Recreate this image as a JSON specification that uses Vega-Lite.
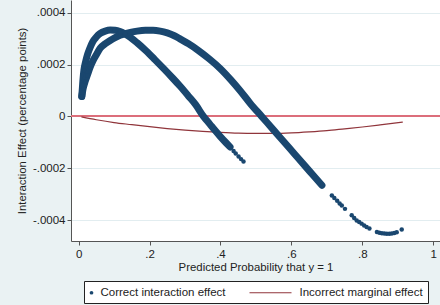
{
  "$schema": "https://vega.github.io/schema/vega-lite/v6.json",
  "width": 369,
  "height": 241,
  "autosize": {"type": "none"},
  "padding": {"left": 71, "top": 0, "right": 0, "bottom": 64},
  "background": "#eaf2f3",
  "config": {
    "font": "Liberation Sans",
    "view": {"fill": "white", "stroke": null},
    "axis": {
      "labelFont": "Liberation Sans",
      "labelFontSize": 11.5,
      "labelColor": "#222222",
      "titleFont": "Liberation Sans",
      "titleFontSize": 11.4,
      "titleFontWeight": "normal",
      "titleColor": "#222222",
      "domainColor": "#555555",
      "domainWidth": 1,
      "tickColor": "#555555",
      "tickSize": 4,
      "tickWidth": 1
    }
  },
  "data": {
    "values": [
      {"p": 0.009, "v": 0.000077, "s": "Correct interaction effect", "c": "A", "d": 1},
      {"p": 0.012, "v": 0.000135, "s": "Correct interaction effect", "c": "A", "d": 1},
      {"p": 0.015, "v": 0.000178, "s": "Correct interaction effect", "c": "A", "d": 1},
      {"p": 0.020, "v": 0.000212, "s": "Correct interaction effect", "c": "A", "d": 1},
      {"p": 0.025, "v": 0.000238, "s": "Correct interaction effect", "c": "A", "d": 1},
      {"p": 0.032, "v": 0.000264, "s": "Correct interaction effect", "c": "A", "d": 1},
      {"p": 0.040, "v": 0.000288, "s": "Correct interaction effect", "c": "A", "d": 1},
      {"p": 0.050, "v": 0.000306, "s": "Correct interaction effect", "c": "A", "d": 1},
      {"p": 0.061, "v": 0.000320, "s": "Correct interaction effect", "c": "A", "d": 1},
      {"p": 0.075, "v": 0.000329, "s": "Correct interaction effect", "c": "A", "d": 1},
      {"p": 0.089, "v": 0.000333, "s": "Correct interaction effect", "c": "A", "d": 1},
      {"p": 0.103, "v": 0.000332, "s": "Correct interaction effect", "c": "A", "d": 1},
      {"p": 0.117, "v": 0.000327, "s": "Correct interaction effect", "c": "A", "d": 1},
      {"p": 0.131, "v": 0.000318, "s": "Correct interaction effect", "c": "A", "d": 1},
      {"p": 0.146, "v": 0.000305, "s": "Correct interaction effect", "c": "A", "d": 1},
      {"p": 0.165, "v": 0.000284, "s": "Correct interaction effect", "c": "A", "d": 1},
      {"p": 0.190, "v": 0.000253, "s": "Correct interaction effect", "c": "A", "d": 1},
      {"p": 0.215, "v": 0.000219, "s": "Correct interaction effect", "c": "A", "d": 1},
      {"p": 0.240, "v": 0.000184, "s": "Correct interaction effect", "c": "A", "d": 1},
      {"p": 0.265, "v": 0.000148, "s": "Correct interaction effect", "c": "A", "d": 1},
      {"p": 0.287, "v": 0.000115, "s": "Correct interaction effect", "c": "A", "d": 1},
      {"p": 0.310, "v": 0.000078, "s": "Correct interaction effect", "c": "A", "d": 1},
      {"p": 0.330, "v": 0.000045, "s": "Correct interaction effect", "c": "A", "d": 1},
      {"p": 0.352, "v": 0.000000, "s": "Correct interaction effect", "c": "A", "d": 1},
      {"p": 0.370, "v": -0.000030, "s": "Correct interaction effect", "c": "A", "d": 1},
      {"p": 0.385, "v": -0.000055, "s": "Correct interaction effect", "c": "A", "d": 1},
      {"p": 0.399, "v": -0.000077, "s": "Correct interaction effect", "c": "A", "d": 1},
      {"p": 0.413, "v": -0.000098, "s": "Correct interaction effect", "c": "A", "d": 1},
      {"p": 0.427, "v": -0.000118, "s": "Correct interaction effect", "c": "A", "d": 1},
      {"p": 0.437, "v": -0.000134, "s": "Correct interaction effect", "c": "A", "d": 0},
      {"p": 0.443, "v": -0.000143, "s": "Correct interaction effect", "c": "A", "d": 0},
      {"p": 0.451, "v": -0.000155, "s": "Correct interaction effect", "c": "A", "d": 0},
      {"p": 0.458, "v": -0.000165, "s": "Correct interaction effect", "c": "A", "d": 0},
      {"p": 0.465, "v": -0.000174, "s": "Correct interaction effect", "c": "A", "d": 0},
      {"p": 0.009, "v": 0.000077, "s": "Correct interaction effect", "c": "B", "d": 1},
      {"p": 0.013, "v": 0.000108, "s": "Correct interaction effect", "c": "B", "d": 1},
      {"p": 0.018, "v": 0.000133, "s": "Correct interaction effect", "c": "B", "d": 1},
      {"p": 0.0245, "v": 0.000158, "s": "Correct interaction effect", "c": "B", "d": 1},
      {"p": 0.032, "v": 0.000188, "s": "Correct interaction effect", "c": "B", "d": 1},
      {"p": 0.041, "v": 0.000216, "s": "Correct interaction effect", "c": "B", "d": 1},
      {"p": 0.050, "v": 0.000238, "s": "Correct interaction effect", "c": "B", "d": 1},
      {"p": 0.061, "v": 0.000263, "s": "Correct interaction effect", "c": "B", "d": 1},
      {"p": 0.075, "v": 0.000280, "s": "Correct interaction effect", "c": "B", "d": 1},
      {"p": 0.089, "v": 0.000293, "s": "Correct interaction effect", "c": "B", "d": 1},
      {"p": 0.103, "v": 0.000304, "s": "Correct interaction effect", "c": "B", "d": 1},
      {"p": 0.117, "v": 0.000313, "s": "Correct interaction effect", "c": "B", "d": 1},
      {"p": 0.131, "v": 0.000319, "s": "Correct interaction effect", "c": "B", "d": 1},
      {"p": 0.146, "v": 0.000324, "s": "Correct interaction effect", "c": "B", "d": 1},
      {"p": 0.165, "v": 0.000329, "s": "Correct interaction effect", "c": "B", "d": 1},
      {"p": 0.188, "v": 0.000332, "s": "Correct interaction effect", "c": "B", "d": 1},
      {"p": 0.210, "v": 0.000332, "s": "Correct interaction effect", "c": "B", "d": 1},
      {"p": 0.230, "v": 0.000329, "s": "Correct interaction effect", "c": "B", "d": 1},
      {"p": 0.250, "v": 0.000322, "s": "Correct interaction effect", "c": "B", "d": 1},
      {"p": 0.270, "v": 0.000311, "s": "Correct interaction effect", "c": "B", "d": 1},
      {"p": 0.287, "v": 0.000298, "s": "Correct interaction effect", "c": "B", "d": 1},
      {"p": 0.310, "v": 0.000280, "s": "Correct interaction effect", "c": "B", "d": 1},
      {"p": 0.340, "v": 0.000252, "s": "Correct interaction effect", "c": "B", "d": 1},
      {"p": 0.370, "v": 0.000220, "s": "Correct interaction effect", "c": "B", "d": 1},
      {"p": 0.399, "v": 0.000185, "s": "Correct interaction effect", "c": "B", "d": 1},
      {"p": 0.430, "v": 0.000140, "s": "Correct interaction effect", "c": "B", "d": 1},
      {"p": 0.455, "v": 0.000100, "s": "Correct interaction effect", "c": "B", "d": 1},
      {"p": 0.484, "v": 0.000050, "s": "Correct interaction effect", "c": "B", "d": 1},
      {"p": 0.516, "v": 0.000000, "s": "Correct interaction effect", "c": "B", "d": 1},
      {"p": 0.550, "v": -0.000053, "s": "Correct interaction effect", "c": "B", "d": 1},
      {"p": 0.580, "v": -0.000100, "s": "Correct interaction effect", "c": "B", "d": 1},
      {"p": 0.610, "v": -0.000147, "s": "Correct interaction effect", "c": "B", "d": 1},
      {"p": 0.640, "v": -0.000194, "s": "Correct interaction effect", "c": "B", "d": 1},
      {"p": 0.665, "v": -0.000233, "s": "Correct interaction effect", "c": "B", "d": 1},
      {"p": 0.686, "v": -0.000266, "s": "Correct interaction effect", "c": "B", "d": 1},
      {"p": 0.714, "v": -0.000305, "s": "Correct interaction effect", "c": "B", "d": 0},
      {"p": 0.721, "v": -0.000315, "s": "Correct interaction effect", "c": "B", "d": 0},
      {"p": 0.729, "v": -0.000326, "s": "Correct interaction effect", "c": "B", "d": 0},
      {"p": 0.736, "v": -0.000336, "s": "Correct interaction effect", "c": "B", "d": 0},
      {"p": 0.742, "v": -0.000344, "s": "Correct interaction effect", "c": "B", "d": 0},
      {"p": 0.751, "v": -0.000357, "s": "Correct interaction effect", "c": "B", "d": 0},
      {"p": 0.770, "v": -0.000382, "s": "Correct interaction effect", "c": "B", "d": 0},
      {"p": 0.777, "v": -0.000392, "s": "Correct interaction effect", "c": "B", "d": 0},
      {"p": 0.784, "v": -0.000402, "s": "Correct interaction effect", "c": "B", "d": 0},
      {"p": 0.791, "v": -0.000408, "s": "Correct interaction effect", "c": "B", "d": 0},
      {"p": 0.798, "v": -0.000414, "s": "Correct interaction effect", "c": "B", "d": 0},
      {"p": 0.805, "v": -0.000421, "s": "Correct interaction effect", "c": "B", "d": 0},
      {"p": 0.812, "v": -0.000427, "s": "Correct interaction effect", "c": "B", "d": 0},
      {"p": 0.820, "v": -0.000433, "s": "Correct interaction effect", "c": "B", "d": 0},
      {"p": 0.841, "v": -0.000446, "s": "Correct interaction effect", "c": "B", "d": 0},
      {"p": 0.848, "v": -0.000449, "s": "Correct interaction effect", "c": "B", "d": 0},
      {"p": 0.855, "v": -0.000451, "s": "Correct interaction effect", "c": "B", "d": 0},
      {"p": 0.862, "v": -0.000452, "s": "Correct interaction effect", "c": "B", "d": 0},
      {"p": 0.869, "v": -0.000453, "s": "Correct interaction effect", "c": "B", "d": 0},
      {"p": 0.876, "v": -0.000453, "s": "Correct interaction effect", "c": "B", "d": 0},
      {"p": 0.883, "v": -0.000452, "s": "Correct interaction effect", "c": "B", "d": 0},
      {"p": 0.890, "v": -0.000450, "s": "Correct interaction effect", "c": "B", "d": 0},
      {"p": 0.897, "v": -0.000447, "s": "Correct interaction effect", "c": "B", "d": 0},
      {"p": 0.911, "v": -0.000437, "s": "Correct interaction effect", "c": "B", "d": 0},
      {"p": 0.008, "v": -0.000002, "s": "Incorrect marginal effect", "c": "M", "d": 0},
      {"p": 0.05, "v": -0.000013, "s": "Incorrect marginal effect", "c": "M", "d": 0},
      {"p": 0.1, "v": -0.000024, "s": "Incorrect marginal effect", "c": "M", "d": 0},
      {"p": 0.15, "v": -0.000032, "s": "Incorrect marginal effect", "c": "M", "d": 0},
      {"p": 0.2, "v": -0.000040, "s": "Incorrect marginal effect", "c": "M", "d": 0},
      {"p": 0.25, "v": -0.000047, "s": "Incorrect marginal effect", "c": "M", "d": 0},
      {"p": 0.3, "v": -0.000053, "s": "Incorrect marginal effect", "c": "M", "d": 0},
      {"p": 0.35, "v": -0.000058, "s": "Incorrect marginal effect", "c": "M", "d": 0},
      {"p": 0.4, "v": -0.000062, "s": "Incorrect marginal effect", "c": "M", "d": 0},
      {"p": 0.45, "v": -0.000065, "s": "Incorrect marginal effect", "c": "M", "d": 0},
      {"p": 0.5, "v": -0.000066, "s": "Incorrect marginal effect", "c": "M", "d": 0},
      {"p": 0.55, "v": -0.000066, "s": "Incorrect marginal effect", "c": "M", "d": 0},
      {"p": 0.6, "v": -0.000064, "s": "Incorrect marginal effect", "c": "M", "d": 0},
      {"p": 0.65, "v": -0.000060, "s": "Incorrect marginal effect", "c": "M", "d": 0},
      {"p": 0.7, "v": -0.000055, "s": "Incorrect marginal effect", "c": "M", "d": 0},
      {"p": 0.75, "v": -0.000048, "s": "Incorrect marginal effect", "c": "M", "d": 0},
      {"p": 0.8, "v": -0.000041, "s": "Incorrect marginal effect", "c": "M", "d": 0},
      {"p": 0.85, "v": -0.000033, "s": "Incorrect marginal effect", "c": "M", "d": 0},
      {"p": 0.914, "v": -0.000022, "s": "Incorrect marginal effect", "c": "M", "d": 0}
    ]
  },
  "encoding": {
    "x": {
      "field": "p",
      "type": "quantitative",
      "scale": {"domain": [-0.0214, 1.0189], "nice": false, "zero": false},
      "axis": {
        "values": [0, 0.2, 0.4, 0.6, 0.8, 1],
        "labelExpr": "datum.value == 0 ? '0' : (datum.value == 1 ? '1' : '.' + round(datum.value * 10))",
        "grid": false,
        "labelPadding": 3,
        "title": "Predicted Probability that y = 1",
        "titlePadding": 2
      }
    },
    "y": {
      "field": "v",
      "type": "quantitative",
      "scale": {"domain": [-0.000481, 0.000449], "nice": false, "zero": false},
      "axis": {
        "values": [-0.0004, -0.0002, 0, 0.0002, 0.0004],
        "labelExpr": "datum.value == 0 ? '0' : (datum.value < 0 ? '-' : '') + '.000' + round(abs(datum.value) * 10000)",
        "grid": true,
        "gridColor": "#e2edf0",
        "gridWidth": 1,
        "labelPadding": 2,
        "title": "Interaction Effect (percentage points)",
        "titlePadding": 5
      }
    }
  },
  "layer": [
    {
      "mark": {"type": "rule", "color": "#dc6e7b", "strokeWidth": 1.5},
      "encoding": {"y": {"datum": 0}, "x": null}
    },
    {
      "transform": [{"filter": "datum.c == 'M'"}],
      "mark": {"type": "line", "strokeWidth": 1.2, "interpolate": "monotone", "color": "#90353b"},
      "encoding": {}
    },
    {
      "transform": [{"filter": "datum.c != 'M' && datum.d == 1"}],
      "mark": {"type": "line", "strokeWidth": 7, "strokeCap": "round", "strokeJoin": "round", "interpolate": "monotone", "color": "#1a476f"},
      "encoding": {"detail": {"field": "c", "type": "nominal"}}
    },
    {
      "transform": [{"filter": "datum.c != 'M'"}],
      "mark": {"type": "point", "filled": true, "size": 20, "opacity": 1},
      "encoding": {
        "color": {
          "field": "s",
          "type": "nominal",
          "scale": {"domain": ["Correct interaction effect", "Incorrect marginal effect"], "range": ["#1a476f", "#90353b"]},
          "legend": {
            "orient": "none",
            "legendX": 13,
            "legendY": 281,
            "direction": "horizontal",
            "gridAlign": "each",
            "title": null,
            "strokeColor": "#222222",
            "fillColor": "white",
            "padding": 4.5,
            "labelFont": "Liberation Sans",
            "labelFontSize": 11.5,
            "labelColor": "#222222",
            "labelLimit": 300,
            "columnPadding": 20,
            "symbolSize": 14,
            "encoding": {
              "symbols": {
                "shape": {"value": {"expr": "datum.value === 'Correct interaction effect' ? 'circle' : 'stroke'"}},
                "size": {"value": {"expr": "datum.value === 'Correct interaction effect' ? 14 : 1764"}},
                "x": {"value": {"expr": "datum.value === 'Correct interaction effect' ? 3 : 21"}},
                "y": {"value": 7},
                "fill": {"value": {"expr": "datum.value === 'Correct interaction effect' ? '#1a476f' : 'transparent'"}},
                "stroke": {"value": {"expr": "datum.value === 'Correct interaction effect' ? 'transparent' : '#90353b'"}},
                "strokeWidth": {"value": 1.2}
              },
              "labels": {
                "x": {"value": {"expr": "datum.value === 'Correct interaction effect' ? 12 : 50"}},
                "y": {"value": 7}
              }
            }
          }
        }
      }
    }
  ]
}
